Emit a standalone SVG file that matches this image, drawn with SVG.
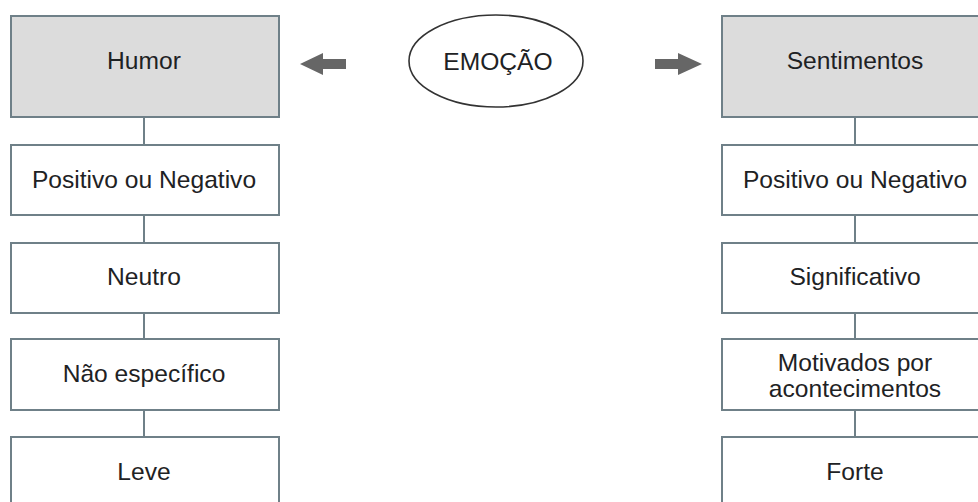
<svg xmlns="http://www.w3.org/2000/svg" width="978" height="502" viewBox="0 0 978 502">
  <style>
    .box { fill: #ffffff; stroke: #6f8088; stroke-width: 2; }
    .head { fill: #dcdcdc; }
    .lbl { font-family: "Liberation Sans", Arial, sans-serif; font-size: 24.6px; fill: #1e2224; text-anchor: middle; }
    .link { stroke: #6f8088; stroke-width: 2; fill: none; }
    .arrow { fill: #666666; }
  </style>

  <!-- connectors -->
  <g id="connectors">
    <line class="link" x1="144" y1="117" x2="144" y2="145"/>
    <line class="link" x1="144" y1="215" x2="144" y2="243"/>
    <line class="link" x1="144" y1="313" x2="144" y2="339"/>
    <line class="link" x1="144" y1="410" x2="144" y2="437"/>
    <line class="link" x1="855" y1="117" x2="855" y2="145"/>
    <line class="link" x1="855" y1="215" x2="855" y2="243"/>
    <line class="link" x1="855" y1="313" x2="855" y2="339"/>
    <line class="link" x1="855" y1="410" x2="855" y2="437"/>
    <!-- block arrows from the centre -->
    <polygon class="arrow" points="346,59 323,59 323,53 300,64 323,75 323,69 346,69"/>
    <polygon class="arrow" points="655,59 678,59 678,53 702,64 678,75 678,69 655,69"/>
  </g>

  <!-- centre -->
  <g id="emocao">
    <ellipse cx="496" cy="61" rx="87" ry="46" fill="#ffffff" stroke="#333333" stroke-width="1.6"/>
    <text class="lbl" x="498" y="70">EMOÇÃO</text>
  </g>

  <!-- left column -->
  <g id="humor">
    <rect class="box head" x="11" y="16" width="268" height="101"/>
    <text class="lbl" x="144" y="69">Humor</text>
  </g>
  <g id="humor-valencia">
    <rect class="box" x="11" y="145" width="268" height="70"/>
    <text class="lbl" x="144" y="188">Positivo ou Negativo</text>
  </g>
  <g id="humor-neutro">
    <rect class="box" x="11" y="243" width="268" height="70"/>
    <text class="lbl" x="144" y="285">Neutro</text>
  </g>
  <g id="humor-especifico">
    <rect class="box" x="11" y="339" width="268" height="71"/>
    <text class="lbl" x="144" y="382">Não específico</text>
  </g>
  <g id="humor-intensidade">
    <rect class="box" x="11" y="437" width="268" height="80"/>
    <text class="lbl" x="144" y="480">Leve</text>
  </g>

  <!-- right column -->
  <g id="sentimentos">
    <rect class="box head" x="722" y="16" width="266" height="101"/>
    <text class="lbl" x="855" y="69">Sentimentos</text>
  </g>
  <g id="sentimentos-valencia">
    <rect class="box" x="722" y="145" width="266" height="70"/>
    <text class="lbl" x="855" y="188">Positivo ou Negativo</text>
  </g>
  <g id="sentimentos-significado">
    <rect class="box" x="722" y="243" width="266" height="70"/>
    <text class="lbl" x="855" y="285">Significativo</text>
  </g>
  <g id="sentimentos-motivacao">
    <rect class="box" x="722" y="339" width="266" height="71"/>
    <text class="lbl" x="855" y="371">Motivados por</text>
    <text class="lbl" x="855" y="397">acontecimentos</text>
  </g>
  <g id="sentimentos-intensidade">
    <rect class="box" x="722" y="437" width="266" height="80"/>
    <text class="lbl" x="855" y="480">Forte</text>
  </g>
</svg>
